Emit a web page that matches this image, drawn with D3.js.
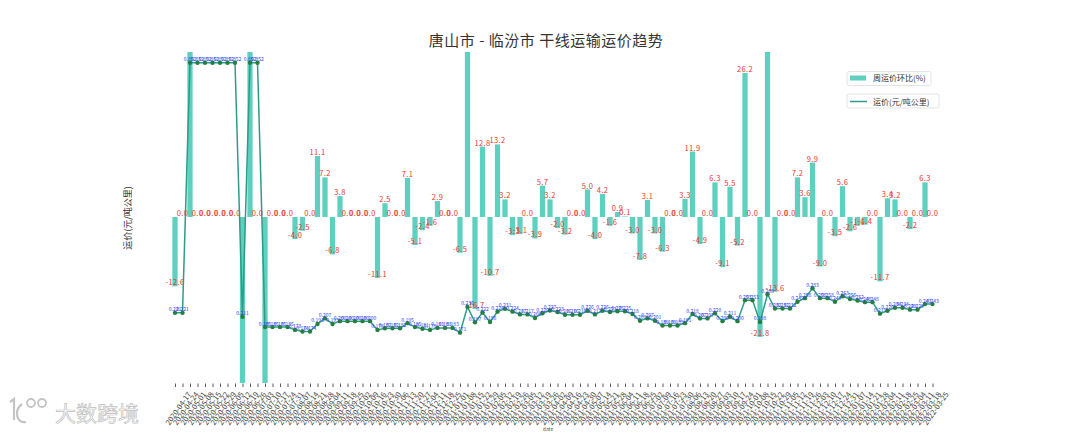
<!DOCTYPE html>
<html>
<head>
<meta charset="utf-8">
<script src="https://cdn.jsdelivr.net/npm/d3@7/dist/d3.min.js"></script>
<style>
    body { margin: 0; background: #fff; }
    text { font-family: "Noto Sans CJK SC", "DejaVu Sans", sans-serif; }
</style>
</head>
<body>
<div id="svg_chart_div"></div>
<script>
// 日期（周）
const dates = [
    "2020-04-17", "2020-04-24", "2020-05-01", "2020-05-08", "2020-05-15", "2020-05-22", "2020-05-29", "2020-06-05",
    "2020-06-12", "2020-06-19", "2020-06-26", "2020-07-03", "2020-07-10", "2020-07-17", "2020-07-24", "2020-07-31",
    "2020-08-07", "2020-08-14", "2020-08-21", "2020-08-28", "2020-09-04", "2020-09-11", "2020-09-18", "2020-09-25",
    "2020-10-02", "2020-10-09", "2020-10-16", "2020-10-23", "2020-10-30", "2020-11-06", "2020-11-13", "2020-11-20",
    "2020-11-27", "2020-12-04", "2020-12-11", "2020-12-18", "2020-12-25", "2021-01-01", "2021-01-08", "2021-01-15",
    "2021-01-22", "2021-01-29", "2021-02-05", "2021-02-12", "2021-02-19", "2021-02-26", "2021-03-05", "2021-03-12",
    "2021-03-19", "2021-03-26", "2021-04-02", "2021-04-09", "2021-04-16", "2021-04-23", "2021-04-30", "2021-05-07",
    "2021-05-14", "2021-05-21", "2021-05-28", "2021-06-04", "2021-06-11", "2021-06-18", "2021-06-25", "2021-07-02",
    "2021-07-09", "2021-07-16", "2021-07-23", "2021-07-30", "2021-08-06", "2021-08-13", "2021-08-20", "2021-08-27",
    "2021-09-03", "2021-09-10", "2021-09-17", "2021-09-24", "2021-10-01", "2021-10-08", "2021-10-15", "2021-10-22",
    "2021-10-29", "2021-11-05", "2021-11-12", "2021-11-19", "2021-11-26", "2021-12-03", "2021-12-10", "2021-12-17",
    "2021-12-24", "2021-12-31", "2022-01-07", "2022-01-14", "2022-01-21", "2022-01-28", "2022-02-04", "2022-02-11",
    "2022-02-18", "2022-02-25", "2022-03-04", "2022-03-11", "2022-03-18", "2022-03-25"
]

// 周运价环比(%)
const weekChange = [
    -12.6, 0.0, 285.5, 0.0, 0.0, 0.0, 0.0, 0.0, 0.0, -75.2, 303.8, 0.0, -78.3, 0.0, 0.0, 0.0,
    -4.0, -2.5, 0.0, 11.1, 7.2, -6.8, 3.8, 0.0, 0.0, 0.0, 0.0, -11.1, 2.5, 0.0, 0.0, 7.1,
    -5.1, -2.4, -1.6, 2.9, 0.0, 0.0, -6.5, 38.0, -16.7, 12.8, -10.7, 13.2, 3.2, -3.3, -3.1, 0.0,
    -3.9, 5.7, 3.2, -2.0, -3.2, 0.0, 0.0, 5.0, -4.0, 4.2, -1.6, 0.9, 0.1, -3.0, -7.8, 3.1,
    -3.0, -6.3, 0.0, 0.0, 3.3, 11.9, -4.9, 0.0, 6.3, -9.1, 5.5, -5.2, 26.2, 0.0, -21.8, 35.4,
    -13.6, 0.0, 0.0, 7.2, 3.6, 9.9, -9.0, 0.0, -3.5, 5.6, -2.6, -1.6, -1.4, 0.0, -11.7, 3.4,
    3.2, 0.0, -2.2, 0.0, 6.3, 0.0
]

// 运价(元/吨公里)
const price = [
    0.221, 0.221, 0.852, 0.852, 0.852, 0.852, 0.852, 0.852, 0.852, 0.211, 0.852, 0.852, 0.185, 0.185, 0.185, 0.185,
    0.178, 0.174, 0.174, 0.193, 0.207, 0.193, 0.200, 0.200, 0.200, 0.200, 0.200, 0.178, 0.182, 0.182, 0.182, 0.195,
    0.185, 0.181, 0.178, 0.183, 0.183, 0.183, 0.171, 0.236, 0.197, 0.222, 0.198, 0.224, 0.231, 0.224, 0.217, 0.217,
    0.208, 0.220, 0.227, 0.223, 0.216, 0.216, 0.216, 0.226, 0.217, 0.226, 0.223, 0.225, 0.225, 0.218, 0.201, 0.207,
    0.201, 0.189, 0.189, 0.189, 0.195, 0.218, 0.207, 0.207, 0.220, 0.200, 0.211, 0.200, 0.253, 0.253, 0.198, 0.268,
    0.232, 0.232, 0.232, 0.249, 0.258, 0.283, 0.258, 0.258, 0.249, 0.263, 0.256, 0.252, 0.248, 0.248, 0.219, 0.226,
    0.234, 0.234, 0.229, 0.229, 0.243, 0.243
]

const width = 1080
const height = 432
const plot = { left: 175, right: 932.5, top: 52, bottom: 383 }

const barColor = '#5fcfbf'
const lineColor = '#2e9c88'

const svg = d3.select('#svg_chart_div').append('svg')
    .attr('width', width)
    .attr('height', height)
    .style('background', '#fff')

// 裁剪区域（柱子超出坐标轴部分不显示）
svg.append('defs').append('clipPath')
    .attr('id', 'plot_clip')
    .append('rect')
    .attr('x', 0)
    .attr('y', plot.top)
    .attr('width', width)
    .attr('height', plot.bottom - plot.top)

/*******      比例尺       *******/
const x = d3.scalePoint()
    .domain(dates)
    .range([plot.left, plot.right])

// 右轴：环比
const yBar = d3.scaleLinear()
    .domain([-30, 30])
    .range([382, plot.top])

// 左轴：运价
const yLine = d3.scaleLinear()
    .domain([0.044, 0.879])
    .range([plot.bottom, plot.top])

const barW = x.step() * 0.7

/*******      图层       *******/
const bars_layer = svg.append('g').attr('class', 'layer--bars').attr('clip-path', 'url(#plot_clip)')
const bar_label_layer = svg.append('g').attr('class', 'layer--bar_labels')
const line_layer = svg.append('g').attr('class', 'layer--line')
const axis_layer = svg.append('g').attr('class', 'layer--axis')
const legend_layer = svg.append('g').attr('class', 'layer--legend')

// 柱子
bars_layer.selectAll('rect')
    .data(weekChange)
    .enter()
    .append('rect')
    .attr('x', (d, i) => x(dates[i]) - barW / 2)
    .attr('y', d => yBar(Math.max(0, d)))
    .attr('width', barW)
    .attr('height', d => Math.abs(yBar(d) - yBar(0)))
    .attr('fill', barColor)

// 柱子数值（超出范围的不显示）
bar_label_layer.selectAll('text')
    .data(weekChange.map((d, i) => ({ d, i })).filter(o => Math.abs(o.d) <= 30))
    .enter()
    .append('text')
    .attr('x', o => x(dates[o.i]))
    .attr('y', o => yBar(o.d) - 1)
    .attr('text-anchor', 'middle')
    .attr('font-size', 7.5)
    .attr('letter-spacing', 0.4)
    .attr('fill', '#e8382b')
    .text(o => o.d.toFixed(1))

// 运价折线
const line = d3.line()
    .x((d, i) => x(dates[i]))
    .y(d => yLine(d))

line_layer.append('path')
    .datum(price)
    .attr('d', line)
    .attr('fill', 'none')
    .attr('stroke', lineColor)
    .attr('stroke-width', 1.5)

line_layer.selectAll('circle')
    .data(price)
    .enter()
    .append('circle')
    .attr('cx', (d, i) => x(dates[i]))
    .attr('cy', d => yLine(d))
    .attr('r', 2.2)
    .attr('fill', '#23803f')

line_layer.selectAll('.price_label')
    .data(price)
    .enter()
    .append('text')
    .attr('class', 'price_label')
    .attr('x', (d, i) => x(dates[i]))
    .attr('y', d => yLine(d) - 1.5)
    .attr('text-anchor', 'middle')
    .attr('font-size', 5)
    .attr('fill', '#2a3cf0')
    .text(d => d3.format('.3f')(d))

// x 轴
const xAxis = d3.axisBottom(x)
    .tickSize(3.5)
    .tickPadding(0)

const gx = axis_layer.append('g')
    .attr('transform', `translate(0, ${plot.bottom + 0.5})`)
    .call(xAxis)
gx.select('.domain').remove()
gx.selectAll('.tick line').attr('stroke', '#333').attr('stroke-width', 0.8)
gx.selectAll('.tick text')
    .attr('font-family', '"DejaVu Sans", sans-serif')
    .attr('font-size', 7.5)
    .attr('fill', '#444')
    .attr('text-anchor', 'middle')
    .attr('dy', '0.35em')
    .attr('transform', 'translate(0, 23) rotate(-55)')

axis_layer.append('text')
    .attr('x', 548)
    .attr('y', 431)
    .attr('text-anchor', 'middle')
    .attr('font-size', 5)
    .attr('fill', '#555')
    .text('date')

// y 轴标题
axis_layer.append('text')
    .attr('transform', 'translate(131, 218) rotate(-90)')
    .attr('text-anchor', 'middle')
    .attr('font-size', 9)
    .attr('fill', '#333')
    .text('运价(元/吨公里)')

// 标题
svg.append('text')
    .attr('x', 546)
    .attr('y', 46)
    .attr('text-anchor', 'middle')
    .attr('font-size', 15)
    .attr('letter-spacing', 0.5)
    .attr('fill', '#333')
    .text('唐山市 - 临汾市  干线运输运价趋势')

/*******      图例       *******/
const leg1 = legend_layer.append('g')
leg1.append('rect')
    .attr('x', 847).attr('y', 71.5).attr('width', 84).attr('height', 14).attr('rx', 2)
    .attr('fill', '#fff').attr('stroke', '#ddd').attr('stroke-width', 0.8)
leg1.append('rect')
    .attr('x', 850).attr('y', 75.5).attr('width', 16).attr('height', 5)
    .attr('fill', barColor)
leg1.append('text')
    .attr('x', 873).attr('y', 81).attr('font-size', 8).attr('fill', '#333')
    .text('周运价环比(%)')

const leg2 = legend_layer.append('g')
leg2.append('rect')
    .attr('x', 847).attr('y', 94).attr('width', 92).attr('height', 14).attr('rx', 2)
    .attr('fill', '#fff').attr('stroke', '#ddd').attr('stroke-width', 0.8)
leg2.append('line')
    .attr('x1', 850).attr('x2', 867).attr('y1', 101.5).attr('y2', 101.5)
    .attr('stroke', lineColor).attr('stroke-width', 1.5)
leg2.append('text')
    .attr('x', 873).attr('y', 104.5).attr('font-size', 8).attr('fill', '#333')
    .text('运价(元/吨公里)')

/*******      水印       *******/
const wm = svg.append('g').attr('class', 'watermark')
wm.append('path')
    .attr('d', 'M10,402 L14,399 L14,420 M22,404 C14,410 16,424 26,422')
    .attr('fill', 'none').attr('stroke', '#c4c4c4').attr('stroke-width', 2.2)
wm.append('circle').attr('cx', 31).attr('cy', 403).attr('r', 4)
    .attr('fill', 'none').attr('stroke', '#c4c4c4').attr('stroke-width', 1.8)
wm.append('circle').attr('cx', 42).attr('cy', 403).attr('r', 4)
    .attr('fill', 'none').attr('stroke', '#c4c4c4').attr('stroke-width', 1.8)
wm.append('text')
    .attr('x', 55).attr('y', 421)
    .attr('font-size', 21)
    .attr('fill', '#fff').attr('stroke', '#c0c0c0').attr('stroke-width', 0.7)
    .text('大数跨境')
</script>
</body>
</html>
